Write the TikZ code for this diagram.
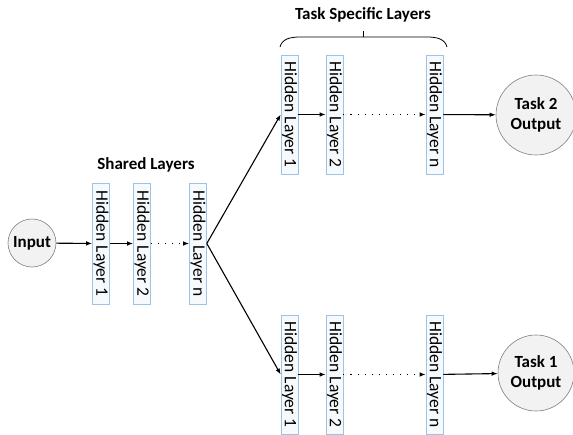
\documentclass[tikz,border=0pt]{standalone}
\usepackage{fontspec}
\setmainfont{Carlito}
\usetikzlibrary{arrows.meta}
\definecolor{boxborder}{HTML}{9DC3E6}
\definecolor{boxfill}{HTML}{F7FAFD}
\definecolor{circfill}{HTML}{F2F2F2}
\definecolor{circborder}{HTML}{808080}
\tikzset{
  layerbox/.style={draw=boxborder, fill=boxfill, line width=0.6pt, minimum height=17pt, minimum width=#1, inner sep=0pt, rotate=-90, font=\fontsize{17.5}{18}\selectfont},
  layerbox/.default=121pt,
  circnode/.style={circle, draw=circborder, fill=circfill, line width=0.6pt, align=center, font=\bfseries\fontsize{17}{20}\selectfont, inner sep=0pt, minimum size=#1},
  conn/.style={-{Latex[length=6pt,width=4.5pt]}, line width=1.1pt},
  dconn/.style={-{Latex[length=6pt,width=4.5pt]}, line width=1.1pt, dash pattern=on 1.1pt off 6pt},
  lbl/.style={font=\bfseries\fontsize{17}{20}\selectfont}
}
\begin{document}
\begin{tikzpicture}[x=1pt,y=1pt]
\useasboundingbox (0,0) rectangle (573,-434);
% shared
\node[circnode=48pt] (in) at (32,-243) {Input};
\node[layerbox] (s1) at (101,-243.5) {Hidden Layer 1};
\node[layerbox] (s2) at (142,-243.5) {Hidden Layer 2};
\node[layerbox] (sn) at (198,-243.5) {Hidden Layer n};
\node[lbl] (shl) at (146,-165) {Shared Layers};
% top
\node[layerbox=119pt] (t1) at (289.5,-114.5) {Hidden Layer 1};
\node[layerbox=119pt] (t2) at (334.5,-114.5) {Hidden Layer 2};
\node[layerbox=119pt] (tn) at (434.5,-114.5) {Hidden Layer n};
\node[circnode=80pt] (o2) at (536,-115) {Task 2\\Output};
% bottom
\node[layerbox=119pt] (b1) at (289.5,-374.5) {Hidden Layer 1};
\node[layerbox=119pt] (b2) at (334.5,-374.5) {Hidden Layer 2};
\node[layerbox=119pt] (bn) at (434.5,-374.5) {Hidden Layer n};
\node[circnode=76pt] (o1) at (536,-373) {Task 1\\Output};
% label and brace
\node[lbl] (tsl) at (363,-15) {Task Specific Layers};
\coordinate (bl) at (280,-47);
\coordinate (br) at (447,-47);
\coordinate (bm) at (363,-37);
\coordinate (bt) at (363,-31);
\draw[line width=0.8pt] (bl) .. controls (282,-39) and (290,-37) .. (300,-37) -- (427,-37) .. controls (437,-37) and (445,-39) .. (br);
\draw[line width=0.8pt] (bm) -- (bt);
% connectors
\draw[conn] (in) -- (s1);
\draw[conn] (s1) -- (s2);
\draw[dconn] (s2) -- (sn);
\draw[conn] (sn.north) -- (t1.south);
\draw[conn] (sn.north) -- (b1.south);
\draw[conn] (t1) -- (t2);
\draw[dconn] (t2) -- (tn);
\draw[conn] (tn) -- (o2);
\draw[conn] (b1) -- (b2);
\draw[dconn] (b2) -- (bn);
\draw[conn] (bn) -- (o1);
\end{tikzpicture}
\end{document}
